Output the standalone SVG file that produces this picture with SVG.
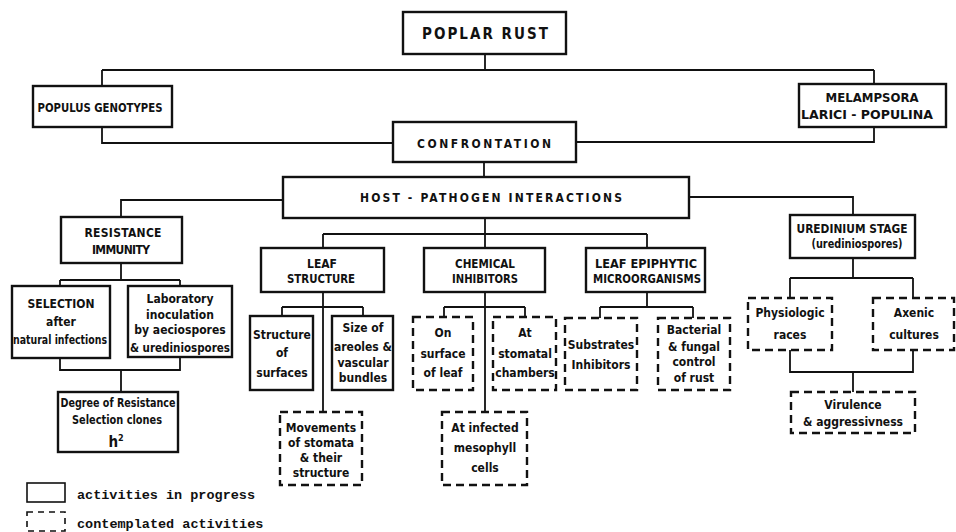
<svg xmlns="http://www.w3.org/2000/svg" width="956" height="532" viewBox="0 0 956 532">
<style>
  .bx{fill:#fff;stroke:#111;stroke-width:2.4}
  .dx{fill:#fff;stroke:#111;stroke-width:2.4;stroke-dasharray:8 5}
  .cn{fill:none;stroke:#111;stroke-width:1.8}
  text{font-family:'Liberation Sans Narrow','DejaVu Sans Condensed','Liberation Sans',sans-serif;font-weight:bold;font-size:12px;fill:#111;text-anchor:middle}
  .hd{font-size:15px}
  .lg{font-family:'Liberation Mono','DejaVu Sans Mono',monospace;font-weight:bold;font-size:13.5px;text-anchor:start}
</style>
<rect width="956" height="532" fill="#fff"/>
<g id="connectors">
  <path class="cn" d="M485 54V70M102 70H874M102 70V86M874 70V84"/>
  <path class="cn" d="M102 127V143H393M576 142H874V127"/>
  <path class="cn" d="M484 162V177"/>
  <path class="cn" d="M283 200H121V217"/>
  <path class="cn" d="M689 197H853V215"/>
  <path class="cn" d="M485 218V248M323 234H647M323 234V248M647 234V248"/>
  <path class="cn" d="M121 263V280M60 280H180M60 280V286M180 280V286"/>
  <path class="cn" d="M60 358V370H180V357M121 370V392"/>
  <path class="cn" d="M323 292V412M282 307H363M282 307V316M363 307V316"/>
  <path class="cn" d="M485 292V412M444 307H525M444 307V317M525 307V317"/>
  <path class="cn" d="M647 292V307M600 307H693M600 307V318M693 307V318"/>
  <path class="cn" d="M853 258V278M790 278H913M790 278V298M913 278V298"/>
  <path class="cn" d="M790 350V372H913V350M853 372V392"/>
</g>
<g id="poplar-rust"><rect class="bx" x="403" y="12" width="163" height="42"/><text class="hd" x="485" y="39" textLength="126" lengthAdjust="spacing">POPLAR RUST</text></g>
<g id="populus"><rect class="bx" x="33" y="86" width="139" height="41"/><text x="100" y="112" textLength="125" lengthAdjust="spacingAndGlyphs">POPULUS GENOTYPES</text></g>
<g id="melampsora"><rect class="bx" x="799" y="84" width="147" height="43"/><text x="872" y="102" textLength="93" lengthAdjust="spacingAndGlyphs">MELAMPSORA</text><text x="867" y="119" textLength="132" lengthAdjust="spacingAndGlyphs">LARICI - POPULINA</text></g>
<g id="confrontation"><rect class="bx" x="393" y="122" width="183" height="40"/><text x="484" y="148" textLength="134" lengthAdjust="spacing">CONFRONTATION</text></g>
<g id="host-pathogen"><rect class="bx" x="283" y="177" width="406" height="41"/><text x="491" y="202" textLength="262" lengthAdjust="spacing">HOST - PATHOGEN INTERACTIONS</text></g>
<g id="resistance"><rect class="bx" x="61" y="217" width="121" height="46"/><text x="123" y="237" textLength="77" lengthAdjust="spacing">RESISTANCE</text><text x="121" y="254" textLength="58" lengthAdjust="spacing">IMMUNITY</text></g>
<g id="selection"><rect class="bx" x="12" y="286" width="98" height="72"/><text x="61" y="308">SELECTION</text><text x="61" y="326">after</text><text x="60" y="344" textLength="94" lengthAdjust="spacingAndGlyphs">natural infections</text></g>
<g id="laboratory"><rect class="bx" x="128" y="286" width="104" height="71"/><text x="180" y="303">Laboratory</text><text x="180" y="319">inoculation</text><text x="180" y="334">by aeciospores</text><text x="180" y="352" textLength="100" lengthAdjust="spacingAndGlyphs">&amp; urediniospores</text></g>
<g id="degree"><rect class="bx" x="58" y="392" width="120" height="60"/><text x="118" y="407" textLength="115" lengthAdjust="spacingAndGlyphs">Degree of Resistance</text><text x="117" y="424" textLength="90" lengthAdjust="spacingAndGlyphs">Selection clones</text><text x="116" y="447" style="font-size:15px">h<tspan dy="-6" style="font-size:9px">2</tspan></text></g>
<g id="leaf-structure"><rect class="bx" x="261" y="248" width="123" height="44"/><text x="322" y="268">LEAF</text><text x="321" y="283" textLength="68" lengthAdjust="spacingAndGlyphs">STRUCTURE</text></g>
<g id="chemical"><rect class="bx" x="424" y="248" width="121" height="44"/><text x="485" y="268" textLength="60" lengthAdjust="spacingAndGlyphs">CHEMICAL</text><text x="485" y="283" textLength="66" lengthAdjust="spacingAndGlyphs">INHIBITORS</text></g>
<g id="leaf-epiphytic"><rect class="bx" x="586" y="248" width="119" height="44"/><text x="646" y="268" textLength="102" lengthAdjust="spacingAndGlyphs">LEAF EPIPHYTIC</text><text x="647" y="283" textLength="108" lengthAdjust="spacingAndGlyphs">MICROORGANISMS</text></g>
<g id="uredinium"><rect class="bx" x="790" y="215" width="125" height="43"/><text x="852" y="233" textLength="111" lengthAdjust="spacingAndGlyphs">UREDINIUM STAGE</text><text x="857" y="248" textLength="91" lengthAdjust="spacingAndGlyphs">(urediniospores)</text></g>
<g id="structure-surfaces"><rect class="bx" x="250" y="316" width="63" height="74"/><text x="282" y="339">Structure</text><text x="282" y="357">of</text><text x="282" y="377">surfaces</text></g>
<g id="size-areoles"><rect class="bx" x="332" y="316" width="61" height="74"/><text x="363" y="332">Size of</text><text x="363" y="351">areoles &amp;</text><text x="363" y="367">vascular</text><text x="363" y="382">bundles</text></g>
<g id="movements"><rect class="dx" x="280" y="412" width="82" height="73"/><text x="321" y="432">Movements</text><text x="321" y="447">of stomata</text><text x="321" y="462">&amp; their</text><text x="321" y="477">structure</text></g>
<g id="on-surface"><rect class="dx" x="413" y="317" width="60" height="73"/><text x="443" y="337">On</text><text x="443" y="358">surface</text><text x="443" y="377">of leaf</text></g>
<g id="stomatal"><rect class="dx" x="493" y="317" width="63" height="73"/><text x="525" y="337">At</text><text x="525" y="358">stomatal</text><text x="525" y="377">chambers</text></g>
<g id="mesophyll"><rect class="dx" x="442" y="412" width="85" height="73"/><text x="485" y="432">At infected</text><text x="485" y="452">mesophyll</text><text x="485" y="472">cells</text></g>
<g id="substrates"><rect class="dx" x="565" y="318" width="72" height="72"/><text x="601" y="349">Substrates</text><text x="601" y="369">Inhibitors</text></g>
<g id="bacterial"><rect class="dx" x="658" y="318" width="72" height="72"/><text x="694" y="334">Bacterial</text><text x="694" y="351">&amp; fungal</text><text x="694" y="366">control</text><text x="694" y="382">of rust</text></g>
<g id="physiologic"><rect class="dx" x="748" y="298" width="84" height="52"/><text x="790" y="317">Physiologic</text><text x="790" y="339">races</text></g>
<g id="axenic"><rect class="dx" x="873" y="298" width="81" height="52"/><text x="914" y="317">Axenic</text><text x="914" y="339">cultures</text></g>
<g id="virulence"><rect class="dx" x="791" y="392" width="124" height="41"/><text x="853" y="409">Virulence</text><text x="853" y="426">&amp; aggressivness</text></g>
<g id="legend">
  <rect class="bx" x="27" y="483" width="38" height="19" style="stroke-width:1.6"/>
  <text class="lg" x="77" y="499" textLength="178" lengthAdjust="spacingAndGlyphs">activities in progress</text>
  <rect class="dx" x="27" y="512" width="38" height="19" style="stroke-width:1.6;stroke-dasharray:6 5"/>
  <text class="lg" x="77" y="528">contemplated activities</text>
</g>
</svg>
